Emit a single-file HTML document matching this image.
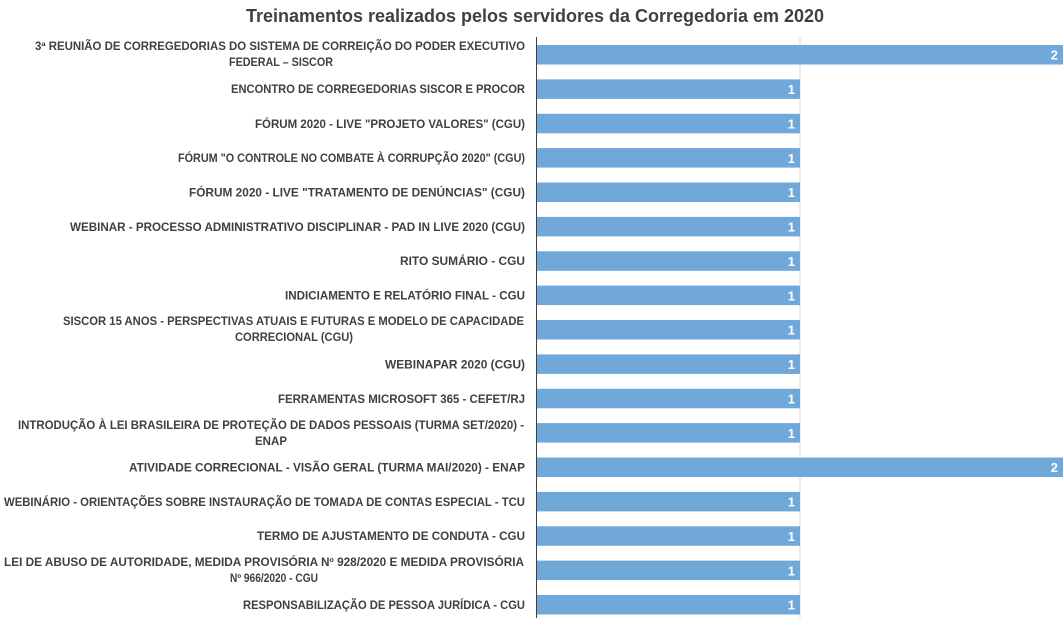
<!DOCTYPE html>
<html><head><meta charset="utf-8"><style>
html,body{margin:0;padding:0;background:#fff;}
svg{display:block;}
text{font-family:"Liberation Sans",sans-serif;font-weight:bold;}
.l{font-size:11.5px;fill:#404040;}
.v{font-size:13px;fill:#fff;}
</style></head><body>
<svg width="1063" height="627" viewBox="0 0 1063 627" xmlns="http://www.w3.org/2000/svg">
<rect width="1063" height="627" fill="#fff"/>
<text x="535" y="22" text-anchor="middle" font-size="18" fill="#404040" textLength="578" lengthAdjust="spacingAndGlyphs">Treinamentos realizados pelos servidores da Corregedoria em 2020</text>
<line x1="800" y1="37" x2="800" y2="618" stroke="#d9d9d9" stroke-width="1"/>
<g fill="#70a8da">
<rect x="537" y="45" width="526" height="19.5"/>
<rect x="537" y="79.4" width="263" height="19.5"/>
<rect x="537" y="113.8" width="263" height="19.5"/>
<rect x="537" y="148.1" width="263" height="19.5"/>
<rect x="537" y="182.5" width="263" height="19.5"/>
<rect x="537" y="216.9" width="263" height="19.5"/>
<rect x="537" y="251.3" width="263" height="19.5"/>
<rect x="537" y="285.6" width="263" height="19.5"/>
<rect x="537" y="320" width="263" height="19.5"/>
<rect x="537" y="354.4" width="263" height="19.5"/>
<rect x="537" y="388.8" width="263" height="19.5"/>
<rect x="537" y="423.1" width="263" height="19.5"/>
<rect x="537" y="457.5" width="526" height="19.5"/>
<rect x="537" y="491.9" width="263" height="19.5"/>
<rect x="537" y="526.3" width="263" height="19.5"/>
<rect x="537" y="560.6" width="263" height="19.5"/>
<rect x="537" y="595" width="263" height="19.5"/>
</g>
<line x1="536.5" y1="37" x2="536.5" y2="618" stroke="#404040" stroke-width="1"/>
<g class="v" text-anchor="end">
<text x="1058" y="59.5">2</text>
<text x="795" y="94">1</text><text x="795" y="128.5">1</text><text x="795" y="162.8">1</text>
<text x="795" y="197.2">1</text><text x="795" y="231.5">1</text><text x="795" y="266">1</text>
<text x="795" y="300.3">1</text><text x="795" y="334.7">1</text><text x="795" y="369.1">1</text>
<text x="795" y="403.5">1</text><text x="795" y="437.8">1</text>
<text x="1058" y="472.2">2</text>
<text x="795" y="506.5">1</text><text x="795" y="541">1</text><text x="795" y="575.3">1</text><text x="795" y="609.7">1</text>
</g>
<g class="l">
<text x="525" y="50" text-anchor="end" textLength="490" lengthAdjust="spacingAndGlyphs">3ª REUNIÃO DE CORREGEDORIAS DO SISTEMA DE CORREIÇÃO DO PODER EXECUTIVO</text>
<text x="229" y="66" textLength="104" lengthAdjust="spacingAndGlyphs">FEDERAL – SISCOR</text>
<text x="525" y="93" text-anchor="end" textLength="294" lengthAdjust="spacingAndGlyphs">ENCONTRO DE CORREGEDORIAS SISCOR E PROCOR</text>
<text x="525" y="128" text-anchor="end" textLength="270" lengthAdjust="spacingAndGlyphs">FÓRUM 2020 - LIVE "PROJETO VALORES" (CGU)</text>
<text x="525" y="162" text-anchor="end" textLength="347" lengthAdjust="spacingAndGlyphs">FÓRUM "O CONTROLE NO COMBATE À CORRUPÇÃO 2020" (CGU)</text>
<text x="525" y="196.5" text-anchor="end" textLength="336" lengthAdjust="spacingAndGlyphs">FÓRUM 2020 - LIVE "TRATAMENTO DE DENÚNCIAS" (CGU)</text>
<text x="525" y="231" text-anchor="end" textLength="455" lengthAdjust="spacingAndGlyphs">WEBINAR - PROCESSO ADMINISTRATIVO DISCIPLINAR - PAD IN LIVE 2020 (CGU)</text>
<text x="525" y="265" text-anchor="end" textLength="125" lengthAdjust="spacingAndGlyphs">RITO SUMÁRIO - CGU</text>
<text x="525" y="299.5" text-anchor="end" textLength="240" lengthAdjust="spacingAndGlyphs">INDICIAMENTO E RELATÓRIO FINAL - CGU</text>
<text x="524" y="325" text-anchor="end" textLength="461" lengthAdjust="spacingAndGlyphs">SISCOR 15 ANOS - PERSPECTIVAS ATUAIS E FUTURAS E MODELO DE CAPACIDADE</text>
<text x="235" y="341" textLength="118" lengthAdjust="spacingAndGlyphs">CORRECIONAL (CGU)</text>
<text x="525" y="368.5" text-anchor="end" textLength="140" lengthAdjust="spacingAndGlyphs">WEBINAPAR 2020 (CGU)</text>
<text x="525" y="403" text-anchor="end" textLength="247" lengthAdjust="spacingAndGlyphs">FERRAMENTAS MICROSOFT 365 - CEFET/RJ</text>
<text x="524" y="429" text-anchor="end" textLength="506" lengthAdjust="spacingAndGlyphs">INTRODUÇÃO À LEI BRASILEIRA DE PROTEÇÃO DE DADOS PESSOAIS (TURMA SET/2020) -</text>
<text x="255" y="445" textLength="32" lengthAdjust="spacingAndGlyphs">ENAP</text>
<text x="525" y="471.5" text-anchor="end" textLength="396" lengthAdjust="spacingAndGlyphs">ATIVIDADE CORRECIONAL - VISÃO GERAL (TURMA MAI/2020) - ENAP</text>
<text x="525" y="506" text-anchor="end" textLength="521" lengthAdjust="spacingAndGlyphs">WEBINÁRIO - ORIENTAÇÕES SOBRE INSTAURAÇÃO DE TOMADA DE CONTAS ESPECIAL - TCU</text>
<text x="525" y="540" text-anchor="end" textLength="268" lengthAdjust="spacingAndGlyphs">TERMO DE AJUSTAMENTO DE CONDUTA - CGU</text>
<text x="524" y="566" text-anchor="end" textLength="520" lengthAdjust="spacingAndGlyphs">LEI DE ABUSO DE AUTORIDADE, MEDIDA PROVISÓRIA Nº 928/2020 E MEDIDA PROVISÓRIA</text>
<text x="230" y="582" textLength="88" lengthAdjust="spacingAndGlyphs">Nº 966/2020 - CGU</text>
<text x="525" y="609" text-anchor="end" textLength="282" lengthAdjust="spacingAndGlyphs">RESPONSABILIZAÇÃO DE PESSOA JURÍDICA - CGU</text>
</g>
</svg>
</body></html>
